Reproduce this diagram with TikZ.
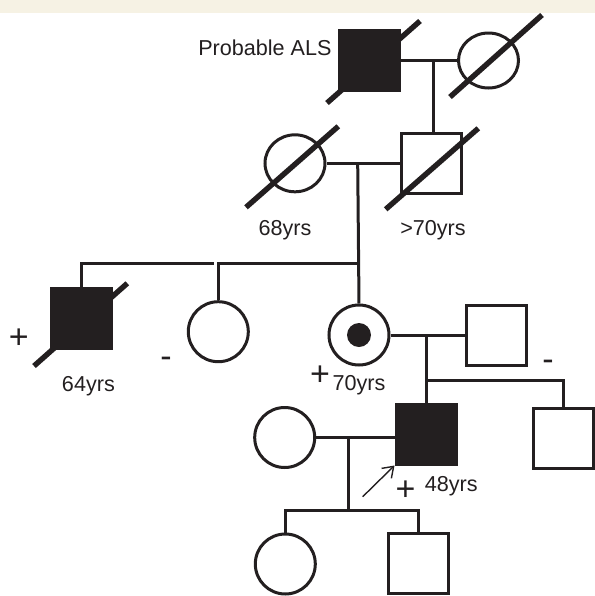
\documentclass[tikz,border=0pt]{standalone}
\usepackage{fontspec}
\setmainfont{Liberation Sans}
\usepackage{tikz}
\usetikzlibrary{arrows.meta,calc,shapes.geometric}
\definecolor{ink}{RGB}{35,31,32}
\definecolor{bandbeige}{RGB}{246,242,228}

\begin{document}
\begin{tikzpicture}[
  x=0.5pt, y=-0.5pt,
  male/.style={rectangle, draw=ink, line width=1.5pt, minimum size=30pt, inner sep=0pt},
  female/.style={ellipse, draw=ink, line width=1.5pt, minimum width=30pt, minimum height=30pt, inner sep=0pt},
  affected/.style={fill=ink},
  carrierdot/.style={circle, fill=ink, minimum size=12pt, inner sep=0pt},
  link/.style={draw=ink, line width=1.5pt},
  slash/.style={draw=ink, line width=2.7pt},
  pointer/.style={draw=ink, line width=0.7pt, -{Straight Barb[length=5pt,width=7pt]}},
  lbl/.style={font=\fontsize{10.8}{12}\selectfont, inner sep=0pt, anchor=base, text=ink},
  sign/.style={font=\fontsize{17}{17}\selectfont, inner sep=0pt, anchor=base, text=ink}
]
\useasboundingbox (0,0) rectangle (595,596);
\fill[bandbeige] (0,0) rectangle (595,12.5);

% Generation I
\node[male, affected] (g1m) at (369.5,60.5) {};
\node[female, minimum height=27.5pt] (g1f) at (488.5,60.5) {};
\node[lbl, anchor=base east] (als) at (332,55) {Probable ALS};

% Generation II
\node[female, minimum height=28.5pt] (g2f) at (295,163.3) {};
\node[male] (g2m) at (431,163.3) {};
\node[lbl] (age2f) at (285,235) {68yrs};
\node[lbl] (age2m) at (433,235) {>70yrs};

% Generation III
\node[male, affected] (g3b) at (81,318) {};
\node[female] (g3s) at (218.3,331.7) {};
\node[female] (g3m) at (359,335) {};
\node[carrierdot] (g3dot) at (g3m) {};
\node[male] (g3h) at (496,335) {};
\node[sign] (sgnb) at (18.7,348.7) {+};
\node[sign] (sgns) at (166,367.5) {-};
\node[sign] (sgnh) at (548,370) {-};
\node[sign] (sgnm) at (320,385.3) {+};
\node[lbl] (age3b) at (88.4,391.7) {64yrs};
\node[lbl] (age3m) at (359,390) {70yrs};

% Generation IV
\node[female] (g4w) at (284.7,437.5) {};
\node[male, affected] (g4p) at (426,434) {};
\node[male] (g4b) at (563.5,438.5) {};
\node[sign] (sgnp) at (405.5,500) {+};
\node[lbl] (age4p) at (451.3,491.7) {48yrs};

% Generation V
\node[female] (g5d) at (285.3,564) {};
\node[male] (g5s) at (418.3,563.7) {};

% Couples and sibships
\coordinate (d1) at (433,60.5);
\coordinate (d2) at (357.7,163.3);
\coordinate (s3) at (357.7,263.3);
\coordinate (gapL) at (213.5,263.3);
\coordinate (d3) at (426,335);
\coordinate (s4) at (426,380.7);
\coordinate (d4) at (348.3,437.5);
\coordinate (s5) at (348.3,510.7);
\coordinate (ptail) at (362.7,496.7);

\draw[link] (g1m.east) -- (g1f.west);
\draw[link] (d1) -- (d1 |- g2m.north);
\draw[link] (g2f.east) -- (g2m.west);
\draw[link] (d2) -- (g3m.north);
\draw[link] (g3b.north) |- (gapL);
\draw[link] (g3s.north) |- (s3);
\draw[link] (g3m.east) -- (g3h.west);
\draw[link] (d3) -- (g4p.north);
\draw[link] (s4) -| (g4b.north);
\draw[link] (g4w.east) -- (g4w.east -| g4p.west);
\draw[link] (d4) -- (s5);
\draw[link] (g5d.north) |- (s5) -| (g5s.north);

% Deceased
\draw[slash] ($(g1m)+(-42.5,42.5)$) -- ($(g1m)+(50.5,-39.5)$);
\draw[slash] ($(g1f)+(-38.5,36.5)$) -- ($(g1f)+(53.5,-45.5)$);
\draw[slash] ($(g2f)+(-49,44)$) -- ($(g2f)+(43.3,-37)$);
\draw[slash] ($(g2m)+(-45.3,46)$) -- ($(g2m)+(47.3,-35)$);
\draw[slash] ($(g3b)+(-47,48)$) -- ($(g3b)+(46.3,-34.7)$);

% Proband
\draw[pointer] (ptail) -- (g4p.south west);

\end{tikzpicture}
\end{document}
